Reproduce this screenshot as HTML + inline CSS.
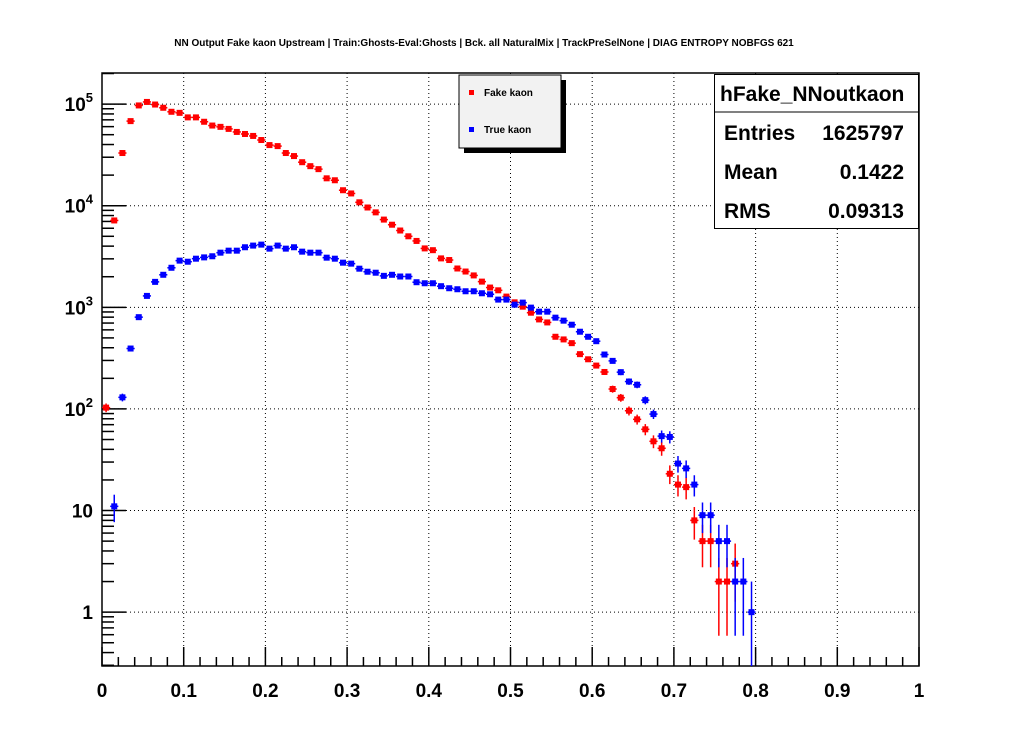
<!DOCTYPE html>
<html><head><meta charset="utf-8"><style>
html,body{margin:0;padding:0;background:#fff;}
svg{display:block;font-family:"Liberation Sans",Arial,sans-serif;}
</style></head><body>
<svg id="c" width="1020" height="740" viewBox="0 0 1020 740">
<rect x="0" y="0" width="1020" height="740" fill="#fff"/>
<text x="484" y="46" font-size="10" font-weight="bold" text-anchor="middle">NN Output Fake kaon Upstream | Train:Ghosts-Eval:Ghosts | Bck. all NaturalMix | TrackPreSelNone | DIAG ENTROPY NOBFGS 621</text>
<g id="grid"></g>
<g id="axes"></g>
<g id="series"></g>
<g>
<rect x="464" y="80" width="102" height="73" fill="#000"/>
<rect x="459" y="75" width="102" height="73" fill="#f2f2f2" stroke="#000" stroke-width="1"/>
<rect x="469" y="90" width="5" height="5" fill="#f00"/>
<text x="484" y="96" font-size="10" font-weight="bold">Fake kaon</text>
<rect x="469" y="127" width="5" height="5" fill="#00f"/>
<text x="484" y="133" font-size="10" font-weight="bold">True kaon</text>
</g>
<g>
<rect x="714.5" y="74.5" width="204" height="154" fill="#fff" stroke="#000"/>
<line x1="714.5" y1="112" x2="918.5" y2="112" stroke="#000"/>
<text x="720" y="101" font-size="21" font-weight="bold">hFake_NNoutkaon</text>
<text x="724" y="140" font-size="21" font-weight="bold">Entries</text>
<text x="904" y="140" font-size="21" font-weight="bold" text-anchor="end">1625797</text>
<text x="724" y="179" font-size="21" font-weight="bold">Mean</text>
<text x="904" y="179" font-size="21" font-weight="bold" text-anchor="end">0.1422</text>
<text x="724" y="218" font-size="21" font-weight="bold">RMS</text>
<text x="904" y="218" font-size="21" font-weight="bold" text-anchor="end">0.09313</text>
</g>
</svg>
<script>
const binLow = 0, binWidth = 0.01;
const fakeCounts = [103,7160,33000,68000,97000,105000,99000,92000,84000,82000,74000,74000,67000,61500,59700,57000,53200,50800,48600,44300,39500,38600,33000,30800,26800,24500,22900,18600,17800,14200,13200,10800,9600,8600,7300,6500,5700,5000,4500,3800,3650,3030,2920,2410,2250,2060,1790,1565,1470,1275,1120,1015,885,760,710,513,483,444,346,308,267,231,157,129,96,79,63,48,41,23,18,17,8,5,5,2,2,3];
const trueCounts = [0,11,130,393,800,1295,1780,2090,2450,2880,2810,3010,3100,3180,3450,3610,3610,3900,4050,4140,3780,4050,3780,3900,3530,3450,3450,3080,3010,2750,2690,2400,2240,2190,2040,2090,2010,2010,1766,1725,1725,1614,1541,1506,1439,1439,1375,1344,1191,1191,1062,1112,993,906,906,791,739,674,575,513,464,343,297,230,186,173,122,89,54,53,29,26,18,9,9,5,5,2,2,1];
const xTickLabels = ["0","0.1","0.2","0.3","0.4","0.5","0.6","0.7","0.8","0.9","1"];
const yTickValues = [1,10,100,1000,10000,100000];
const yTickBases = ["1","10","10","10","10","10"];
const yTickExps = ["","","2","3","4","5"];

const L=102,R=919,T=73,B=666;
const yMinLog=-0.53, yMaxLog=5.306;
const X=v=>L+(v-0)/(1-0)*(R-L);
const Y=v=>B-(Math.log10(v)-yMinLog)/(yMaxLog-yMinLog)*(B-T);
const NS="http://www.w3.org/2000/svg";
function mk(tag,attrs,parent){const e=document.createElementNS(NS,tag);for(const k in attrs)e.setAttribute(k,attrs[k]);parent.appendChild(e);return e;}
const grid=document.getElementById('grid'),axes=document.getElementById('axes'),series=document.getElementById('series');

xTickLabels.forEach((lab,i)=>{
  const v=i/10, x=X(v);
  if(i>0&&i<10){const g=mk('line',{x1:x,y1:T,x2:x,y2:B,stroke:'#000','stroke-dasharray':'1,3','stroke-width':1},grid);
  
  }
  const t=mk('line',{x1:x,y1:B,x2:x,y2:B-19,stroke:'#000','stroke-width':1.5},axes);
  
  
  const tt=mk('text',{x:x,y:697,'font-size':19,'font-weight':'bold','text-anchor':'middle'},axes);
  tt.textContent=lab;
  
  
  if(i<10){for(let k=1;k<5;k++){const xm=X(v+k*0.02);
    const m=mk('line',{x1:xm,y1:B,x2:xm,y2:B-9,stroke:'#000','stroke-width':1.5},axes);
    
    }}
});
yTickValues.forEach((v,i)=>{
  const y=Y(v);
  const g=mk('line',{x1:L,y1:y,x2:R,y2:y,stroke:'#000','stroke-dasharray':'1,3','stroke-width':1},grid);
  
  
  const t=mk('line',{x1:L,y1:y,x2:L+24,y2:y,stroke:'#000','stroke-width':1.5},axes);
  
  
  const tt=mk('text',{x:93,y:y+7,'font-size':19,'font-weight':'bold','text-anchor':'end'},axes);
  
  
  const b=mk('tspan',{},tt); b.textContent=yTickBases[i];
  if(yTickExps[i]){const e=mk('tspan',{'font-size':13,dy:-9},tt); e.textContent=yTickExps[i];}
});
for(let d=-1;d<=5;d++){for(let k=2;k<10;k++){const val=k*Math.pow(10,d);const y=Y(val);
  if(y<T||y>B)continue;
  const m=mk('line',{x1:L,y1:y,x2:L+12,y2:y,stroke:'#000','stroke-width':1.5},axes);
  
  }}
const fr=mk('rect',{x:L,y:T,width:R-L,height:B-T,fill:'none',stroke:'#000','stroke-width':1.5},axes);



function drawSeries(counts,color,name){
  const grp=mk('g',{},series);
  
  
  counts.forEach((n,i)=>{
    if(n<=0)return;
    const c=binLow+(i+0.5)*binWidth, x=X(c), y=Y(n), e=Math.sqrt(n);
    const g=mk('g',{},grp);
    
    
    const lo=n-e>0?Math.min(Y(n-e),B):B, hi=Math.max(Y(n+e),T);
    mk('line',{x1:x,y1:hi,x2:x,y2:lo,stroke:color,'stroke-width':1.5},g);
    mk('line',{x1:X(c-binWidth/2),y1:y,x2:X(c+binWidth/2),y2:y,stroke:color,'stroke-width':1.5},g);
    mk('rect',{x:x-3,y:y-3,width:6,height:6,fill:color},g);
  });
}
drawSeries(fakeCounts,'#f00','fake-kaon');
drawSeries(trueCounts,'#00f','true-kaon');
</script>
</body></html>
